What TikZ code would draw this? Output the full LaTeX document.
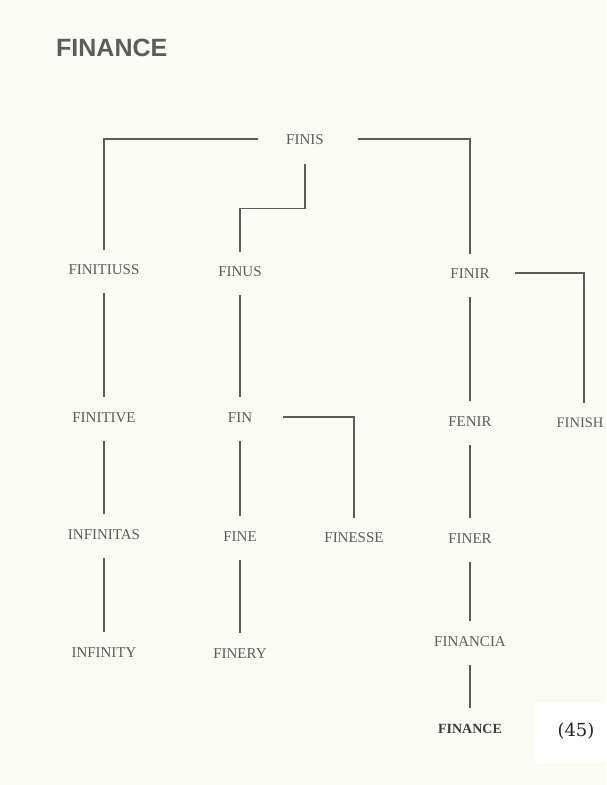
\documentclass[tikz,border=0pt]{standalone}
\usepackage{fontspec}
\setmainfont{Liberation Serif}
\newfontfamily\headfont{Liberation Sans}
\newfontfamily\pagenumfont{DejaVu Serif}
\usepackage{tikz}
\usetikzlibrary{positioning}

\definecolor{paper}{RGB}{251,251,246}
\definecolor{inkgray}{RGB}{92,92,92}
\definecolor{inkdark}{RGB}{60,60,60}

\begin{document}
\begin{tikzpicture}[
  x=1pt, y=-1pt,
  word/.style={inner sep=0pt, text height=10pt, text depth=0pt, text=inkgray, font=\fontsize{15}{18}\selectfont},
  conn/.style={draw=inkgray, line width=1.2pt, shorten <=19pt, shorten >=15pt}
]
\fill[paper] (0,0) rectangle (606,785);
\useasboundingbox (0,0) rectangle (606,785);
\fill[white] (535,703) rectangle (606,762);

\node[anchor=west, inner sep=0pt, text height=18pt, text depth=0pt, text=inkgray, font=\headfont\bfseries\fontsize{25}{28}\selectfont] (title) at (56,47) {FINANCE};

\node[word] (finis) at (305,139) {FINIS};
\node[word] (finitiuss) at (104,269) {FINITIUSS};
\node[word] (finus) at (240,271) {FINUS};
\node[word] (finir) at (470,273) {FINIR};
\node[word] (finitive) at (104,417) {FINITIVE};
\node[word] (fin) at (240,417) {FIN};
\node[word] (fenir) at (470,421) {FENIR};
\node[word, font=\fontsize{14.5}{17}\selectfont] (finish) at (580,422) {FINISH};
\node[word] (infinitas) at (104,534) {INFINITAS};
\node[word] (fine) at (240,536) {FINE};
\node[word] (finesse) at (354,537) {FINESSE};
\node[word] (finer) at (470,538) {FINER};
\node[word] (infinity) at (104,652) {INFINITY};
\node[word] (finery) at (240,653) {FINERY};
\node[word] (financia) at (470,641) {FINANCIA};
\node[word, text=inkdark, font=\bfseries\fontsize{14}{17}\selectfont] (finance) at (470,728) {FINANCE};
\node[inner sep=0pt, text=black!85, font=\pagenumfont\fontsize{18}{20}\selectfont] (pagenum) at (576,731) {(45)};

\draw[conn, shorten <=28pt, shorten >=14pt] (finis) -| (finitiuss);
\draw[conn, shorten <=34pt, shorten >=14pt] (finis) -| (finir);
\draw[conn, shorten <=20pt, shorten >=14pt] (finis.south) -- ++(0,64) -| (finus.north);
\draw[conn, shorten <=25pt, shorten >=14pt] (finir) -| ([xshift=4pt]finish.north);
\draw[conn, shorten <=31pt, shorten >=14pt] (fin) -| (finesse);

\draw[conn] (finitiuss) -- (finitive);
\draw[conn] (finitive) -- (infinitas);
\draw[conn] (infinitas) -- (infinity);
\draw[conn] (finus) -- (fin);
\draw[conn] (fin) -- (fine);
\draw[conn] (fine) -- (finery);
\draw[conn] (finir) -- (fenir);
\draw[conn] (fenir) -- (finer);
\draw[conn] (finer) -- (financia);
\draw[conn] (financia) -- (finance);
\end{tikzpicture}
\end{document}
